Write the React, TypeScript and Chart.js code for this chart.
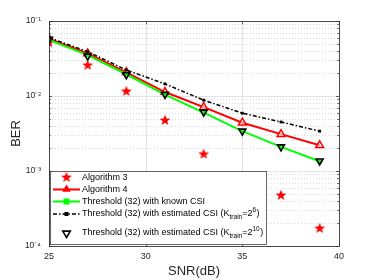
import React, { useEffect, useRef } from 'react';
import { Chart, registerables } from 'chart.js';

Chart.register(...registerables);

const SNR = [25, 27, 29, 31, 33, 35, 37, 39];
const ALG3 = [0.052, 0.026, 0.0117, 0.0048, 0.0017, 0.00075, 0.00048, 0.000174];
const ALG4 = [0.058, 0.037, 0.0207, 0.0113, 0.0071, 0.0044, 0.0031, 0.0022];
const KNOWN = [0.056, 0.035, 0.0195, 0.0104, 0.006, 0.0034, 0.0021, 0.00135];
const EST6 = [0.06, 0.039, 0.0222, 0.0145, 0.0088, 0.0059, 0.0045, 0.0034];
const EST10 = [0.057, 0.034, 0.0192, 0.0105, 0.0061, 0.0034, 0.0021, 0.00136];

const X_TICKS = [25, 30, 35, 40];
const Y_DECADES = [1e-4, 1e-3, 1e-2, 1e-1];
const Y_LABELS = ['10⁻⁴', '10⁻³', '10⁻²', '10⁻¹'];

const FONT = "'Liberation Sans', Arial, Helvetica, sans-serif";
const AXIS_COLOR = '#262626';

function makeStar(size: number, color: string) {
  const c = document.createElement('canvas');
  c.width = size;
  c.height = size;
  const g = c.getContext('2d')!;
  const cx = size / 2, cy = size / 2 + 0.4;
  const R = size / 2 - 0.3, r = R * 0.42;
  g.beginPath();
  for (let i = 0; i < 10; i++) {
    const ang = -Math.PI / 2 + (i * Math.PI) / 5;
    const rad = i % 2 === 0 ? R : r;
    const px = cx + rad * Math.cos(ang);
    const py = cy + rad * Math.sin(ang);
    if (i === 0) g.moveTo(px, py); else g.lineTo(px, py);
  }
  g.closePath();
  g.fillStyle = color;
  g.fill();
  return c;
}

function pts(ys: number[]) {
  return SNR.map((x, i) => ({ x, y: ys[i] }));
}

function drawTri(ctx: CanvasRenderingContext2D, x: number, y: number, r: number, down: boolean) {
  const s = down ? -1 : 1;
  ctx.beginPath();
  ctx.moveTo(x, y - s * r);
  ctx.lineTo(x + r * 0.95, y + s * r * 0.6);
  ctx.lineTo(x - r * 0.95, y + s * r * 0.6);
  ctx.closePath();
}

const matlabPlugin = {
  id: 'matlabLook',
  beforeDatasetsDraw(chart: any) {
    const { ctx, chartArea, scales } = chart;
    const { left, right, top, bottom } = chartArea;
    const x = scales.x, y = scales.y;
    ctx.save();
    ctx.strokeStyle = '#cfcfcf';
    ctx.lineWidth = 0.7;
    ctx.setLineDash([1, 2]);
    for (const d of Y_DECADES) {
      for (let m = 2; m <= 9; m++) {
        const v = d * m;
        if (v >= 0.1) continue;
        const py = Math.round(y.getPixelForValue(v)) + 0.5;
        ctx.beginPath();
        ctx.moveTo(left, py);
        ctx.lineTo(right, py);
        ctx.stroke();
      }
    }
    ctx.setLineDash([]);
    ctx.strokeStyle = '#dcdcdc';
    ctx.lineWidth = 0.8;
    for (const d of Y_DECADES) {
      const py = Math.round(y.getPixelForValue(d)) + 0.5;
      ctx.beginPath();
      ctx.moveTo(left, py);
      ctx.lineTo(right, py);
      ctx.stroke();
    }
    for (const t of X_TICKS) {
      const px = Math.round(x.getPixelForValue(t)) + 0.5;
      ctx.beginPath();
      ctx.moveTo(px, top);
      ctx.lineTo(px, bottom);
      ctx.stroke();
    }
    ctx.restore();
  },
  afterDraw(chart: any) {
    const { ctx, chartArea, scales } = chart;
    const { left, right, top, bottom } = chartArea;
    const x = scales.x, y = scales.y;
    ctx.save();
    ctx.strokeStyle = AXIS_COLOR;
    ctx.lineWidth = 0.7;
    for (const t of X_TICKS) {
      const px = Math.round(x.getPixelForValue(t)) + 0.5;
      ctx.beginPath();
      ctx.moveTo(px, bottom); ctx.lineTo(px, bottom - 3);
      ctx.moveTo(px, top); ctx.lineTo(px, top + 3);
      ctx.stroke();
    }
    for (const d of Y_DECADES) {
      for (let m = 1; m <= 9; m++) {
        const v = d * m;
        if (v > 0.1 + 1e-12) continue;
        const len = m === 1 ? 3 : 1.8;
        const py = Math.round(y.getPixelForValue(v)) + 0.5;
        ctx.beginPath();
        ctx.moveTo(left, py); ctx.lineTo(left + len, py);
        ctx.moveTo(right, py); ctx.lineTo(right - len, py);
        ctx.stroke();
      }
    }
    ctx.lineWidth = 0.8;
    ctx.strokeRect(Math.round(left) + 0.5, Math.round(top) + 0.5, Math.round(right - left), Math.round(bottom - top));

    // legend
    const lx = Math.round(left) + 1.5, ly = 171.5, lw = 216, lh = 73;
    ctx.fillStyle = '#ffffff';
    ctx.fillRect(lx, ly, lw, lh);
    ctx.strokeStyle = AXIS_COLOR;
    ctx.lineWidth = 0.7;
    ctx.strokeRect(lx, ly, lw, lh);

    const rows = [177.5, 189.5, 201.5, 214, 233];
    const x0 = 53, x1 = 80, mx = 66.5, tx = 82;
    const star = makeStar(12, '#ff0000');
    ctx.drawImage(star, mx - 6, rows[0] - 6.5);
    ctx.strokeStyle = '#ff0000';
    ctx.lineWidth = 2;
    ctx.beginPath(); ctx.moveTo(x0, rows[1]); ctx.lineTo(x1, rows[1]); ctx.stroke();
    ctx.fillStyle = '#ff0000';
    drawTri(ctx, mx, rows[1] - 0.5, 4.5, false);
    ctx.fill();
    ctx.strokeStyle = '#00ff00';
    ctx.beginPath(); ctx.moveTo(x0, rows[2]); ctx.lineTo(x1, rows[2]); ctx.stroke();
    ctx.fillStyle = '#00ff00';
    ctx.fillRect(mx - 3, rows[2] - 3, 6, 6);
    ctx.strokeStyle = '#000000';
    ctx.lineWidth = 1.5;
    ctx.setLineDash([4, 2, 1.5, 2]);
    ctx.beginPath(); ctx.moveTo(x0, rows[3]); ctx.lineTo(x1, rows[3]); ctx.stroke();
    ctx.setLineDash([]);
    ctx.fillStyle = '#000000';
    ctx.fillRect(mx - 2, rows[3] - 2, 4, 4);
    ctx.strokeStyle = '#000000';
    ctx.lineWidth = 1.6;
    drawTri(ctx, mx, rows[4] + 0.5, 4, true);
    ctx.stroke();

    ctx.fillStyle = '#000000';
    ctx.textBaseline = 'middle';
    ctx.textAlign = 'left';
    const f = (s: number) => `${s}px ${FONT}`;
    const main = 9;
    const small = 6.5;
    ctx.font = f(main);
    ctx.fillText('Algorithm 3', tx, rows[0]);
    ctx.fillText('Algorithm 4', tx, rows[1]);
    ctx.fillText('Threshold (32) with known CSI', tx, rows[2]);
    const est = (ry: number, sup: string) => {
      let cx = tx;
      ctx.font = f(main);
      const a = 'Threshold (32) with estimated CSI (K';
      ctx.fillText(a, cx, ry);
      cx += ctx.measureText(a).width;
      ctx.font = f(small);
      ctx.fillText('train', cx, ry + 3);
      cx += ctx.measureText('train').width;
      ctx.font = f(main);
      ctx.fillText('=2', cx, ry);
      cx += ctx.measureText('=2').width;
      ctx.font = f(small);
      ctx.fillText(sup, cx, ry - 3.5);
      cx += ctx.measureText(sup).width;
      ctx.font = f(main);
      ctx.fillText(')', cx + 0.5, ry);
    };
    est(rows[3], '6');
    est(rows[4], '10');
    ctx.restore();
  },
};

export default function App() {
  const ref = useRef<HTMLCanvasElement>(null);
  useEffect(() => {
    if (!ref.current) return;
    const starImg = makeStar(12, '#ff0000');
    const chart = new Chart(ref.current, {
      type: 'line',
      data: {
        datasets: [
          {
            label: 'Algorithm 3',
            data: pts(ALG3),
            showLine: false,
            pointStyle: starImg as any,
            pointRadius: 6,
            borderColor: '#ff0000',
            backgroundColor: '#ff0000',
            order: 5,
          },
          {
            label: 'Algorithm 4',
            data: pts(ALG4),
            borderColor: '#ff0000',
            borderWidth: 2,
            pointStyle: 'triangle',
            pointRadius: 4.5,
            pointBorderWidth: 1.5,
            pointBorderColor: '#ff0000',
            pointBackgroundColor: 'rgba(255,255,255,0.6)',
            tension: 0,
            order: 4,
          },
          {
            label: 'Threshold (32) with known CSI',
            data: pts(KNOWN),
            borderColor: '#00ff00',
            borderWidth: 2,
            pointStyle: 'rect',
            pointRadius: 2.5,
            pointBorderWidth: 0,
            pointBackgroundColor: '#00ff00',
            tension: 0,
            order: 3,
          },
          {
            label: 'Threshold (32) with estimated CSI (K_train=2^6)',
            data: pts(EST6),
            borderColor: '#000000',
            borderWidth: 1.5,
            borderDash: [4, 2, 1.5, 2],
            pointStyle: 'rect',
            pointRadius: 2,
            pointBorderWidth: 0,
            pointBackgroundColor: '#000000',
            tension: 0,
            order: 2,
          },
          {
            label: 'Threshold (32) with estimated CSI (K_train=2^10)',
            data: pts(EST10),
            showLine: false,
            pointStyle: 'triangle',
            pointRotation: 180,
            pointRadius: 4,
            pointBorderWidth: 1.6,
            pointBorderColor: '#000000',
            pointBackgroundColor: 'rgba(0,0,0,0)',
            order: 1,
          },
        ],
      },
      options: {
        responsive: false,
        animation: false,
        layout: { padding: { left: 0, right: 35, top: 21, bottom: 0 } },
        plugins: { legend: { display: false }, tooltip: { enabled: false } },
        scales: {
          x: {
            type: 'linear',
            min: 25,
            max: 40,
            afterBuildTicks: (s: any) => {
              s.ticks = X_TICKS.map((v) => ({ value: v }));
            },
            afterFit: (s: any) => {
              s.height = 34;
            },
            grid: { display: false, drawTicks: false, tickLength: 0 },
            border: { display: false },
            ticks: {
              font: { family: FONT, size: 9 },
              color: AXIS_COLOR,
              padding: 5,
              maxRotation: 0,
              autoSkip: false,
              callback: (v: any) => String(v),
            },
            title: {
              display: true,
              text: 'SNR(dB)',
              font: { family: FONT, size: 13 },
              color: AXIS_COLOR,
              padding: { top: 0, bottom: 1 },
            },
          },
          y: {
            type: 'logarithmic',
            min: 1e-4,
            max: 1e-1,
            afterBuildTicks: (s: any) => {
              s.ticks = Y_DECADES.map((v) => ({ value: v }));
            },
            afterFit: (s: any) => {
              s.width = 49;
            },
            grid: { display: false, drawTicks: false, tickLength: 0 },
            border: { display: false },
            ticks: {
              font: { family: FONT, size: 8.5 },
              color: AXIS_COLOR,
              padding: 8,
              autoSkip: false,
              callback: (v: any) => {
                const i = Y_DECADES.findIndex((d) => Math.abs(d - v) / d < 1e-6);
                return i >= 0 ? Y_LABELS[i] : '';
              },
            },
            title: {
              display: true,
              text: 'BER',
              font: { family: FONT, size: 13 },
              color: AXIS_COLOR,
              padding: { top: 8.5, bottom: 0 },
            },
          },
        },
      },
      plugins: [matlabPlugin],
    });
    return () => chart.destroy();
  }, []);
  return (
    <div style={{ position: 'fixed', left: 0, top: 0, width: 374, height: 280, background: '#fff' }}>
      <canvas ref={ref} width={374} height={280} style={{ display: 'block' }} />
    </div>
  );
}
